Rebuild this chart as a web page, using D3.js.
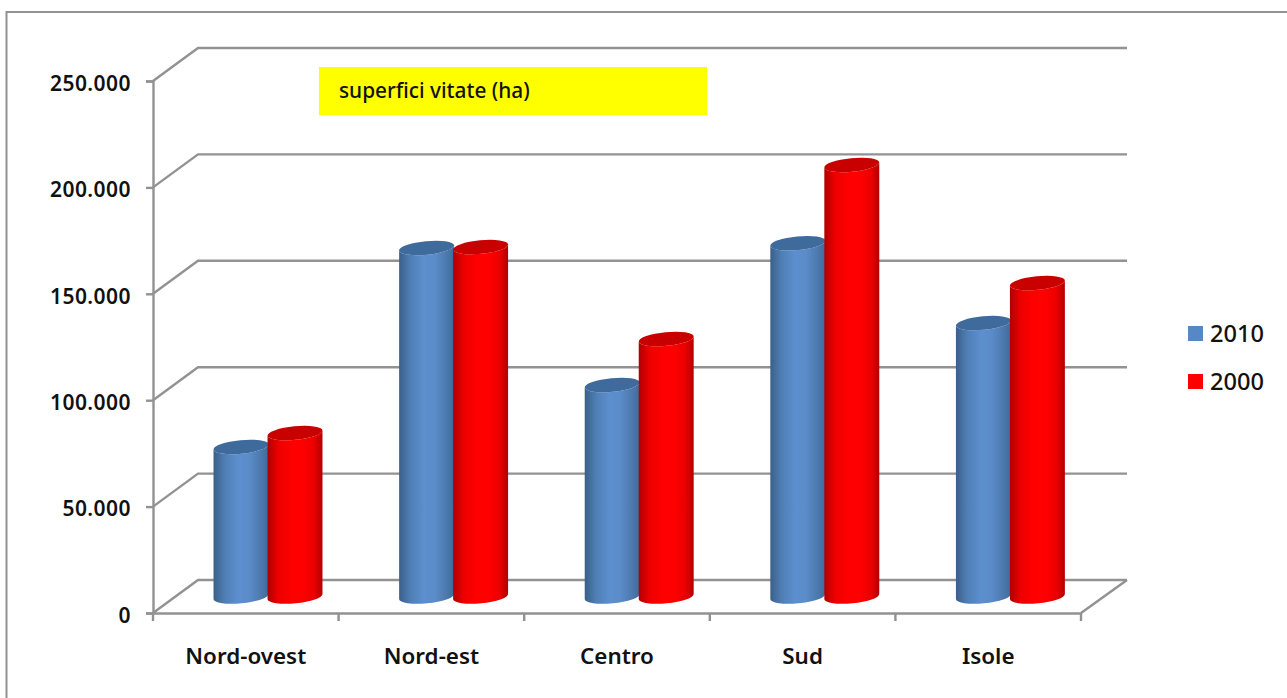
<!DOCTYPE html>
<html lang="it">
<head>
<meta charset="utf-8">
<title>Superfici vitate</title>
<script src="https://cdn.jsdelivr.net/npm/d3@7"></script>
<style>
  html, body { margin: 0; padding: 0; background: #fff; }
  svg { display: block; }
  text { font-family: "Noto Sans", "DejaVu Sans", sans-serif; fill: #111; }
</style>
</head>
<body>
<svg id="chart" width="1287" height="698"></svg>
<script>
// Vineyard area by Italian macro-region, hectares
const categories = ["Nord-ovest", "Nord-est", "Centro", "Sud", "Isole"];
const seriesNames = ["2010", "2000"];
const values2010 = [70300, 163800, 99400, 166000, 128500];
const values2000 = [76800, 164200, 121000, 202800, 147300];
const yTicks = [0, 50000, 100000, 150000, 200000, 250000];
const chartTitle = "superfici vitate (ha)";

const svg = d3.select("#chart");
const grey = "#929292";

// Oblique projection: the back wall sits up and to the right of the front plane
const depth = { x: 45, y: -33 };
const x = d3.scaleBand().domain(categories).range([153, 1081]);
const y = d3.scaleLinear().domain([0, 250000]).range([613, 81]);
const series = d3.scaleBand().domain(seriesNames).range([0, 108]);
const colors = d3.scaleOrdinal().domain(seriesNames).range(["#5788c6", "#ff0000"]);

// Chart frame, open on the right and bottom
svg.append("path")
  .attr("d", "M1287,12 H6.5 V698")
  .attr("fill", "none").attr("stroke", grey).attr("stroke-width", 2);

// Horizontal gradients that shade the cylinders
const defs = svg.append("defs");
const shades = [
  { id: "shade-2010", stops: ["#3a5f89", "#4f7eb4", "#5c8fce", "#5b8cc9", "#4d7aaf", "#416a9b"] },
  { id: "shade-2000", stops: ["#b00000", "#ee0000", "#ff0000", "#ff0000", "#ea0000", "#b00000"] }
];
shades.forEach(s => {
  const g = defs.append("linearGradient").attr("id", s.id);
  const offsets = [0, 0.2, 0.45, 0.65, 0.85, 1];
  s.stops.forEach((c, i) => g.append("stop").attr("offset", offsets[i]).attr("stop-color", c));
});

// Back wall gridlines with their slanted side-wall segments
const grid = svg.append("g").attr("fill", "none").attr("stroke", grey).attr("stroke-width", 2.4);
grid.selectAll("path").data(yTicks).join("path")
  .attr("d", d => `M${x.range()[0]},${y(d)} l${depth.x},${depth.y} H${x.range()[1] + depth.x + 1}`);

// Floor edge on the right
grid.append("path")
  .attr("d", `M${x.range()[1]},${y(0)} L${x.range()[1] + depth.x + 1},${y(0) + depth.y}`);

// Value axis
const yAxis = d3.axisLeft(y)
  .tickValues(yTicks)
  .tickSize(7)
  .tickPadding(15)
  .tickFormat(d3.formatLocale({ thousands: ".", grouping: [3], decimal: ",", currency: ["", ""] }).format(",d"));
const yG = svg.append("g").attr("transform", `translate(${x.range()[0]},0)`).call(yAxis);
yG.select(".domain").attr("stroke", grey).attr("stroke-width", 2.4);
yG.selectAll(".tick line").attr("stroke", grey).attr("stroke-width", 2.4);
yG.selectAll("text")
  .attr("font-size", 21).attr("font-weight", 600).attr("letter-spacing", 0.45)
  .attr("dy", "0.44em").attr("fill", "#111");

// Category axis: labels at band centres, tick marks on the band edges
const xAxis = d3.axisBottom(x).tickSize(0).tickPadding(35);
const xG = svg.append("g").attr("transform", `translate(0,${y(0)})`).call(xAxis);
xG.select(".domain").attr("stroke", grey).attr("stroke-width", 2.4);
xG.selectAll("text").attr("font-size", 22.4).attr("font-weight", 600).attr("fill", "#111");
const edges = categories.map(c => x(c)).concat(x.range()[1]);
xG.selectAll("line.edge").data(edges).join("line")
  .attr("class", "edge")
  .attr("x1", d => d).attr("x2", d => d)
  .attr("y1", 0).attr("y2", 8)
  .attr("stroke", grey).attr("stroke-width", 2.4);

// Cylinders stand half way into the depth of the floor
const rx = 27.6, ry = 6.8, tilt = 5.5;
const dx = rx * Math.cos(tilt * Math.PI / 180);
const dy = rx * Math.sin(tilt * Math.PI / 180);
const groupOffset = (x.bandwidth() - series.range()[1]) / 2 + depth.x / 2 - 0.3;
const baseY = v => y(v) + depth.y / 2;

const rows = [];
categories.forEach((c, i) => {
  rows.push({ cat: c, name: seriesNames[0], value: values2010[i] });
  rows.push({ cat: c, name: seriesNames[1], value: values2000[i] });
});

const bars = svg.append("g").selectAll("g").data(rows).join("g")
  .attr("transform", d =>
    `translate(${x(d.cat) + groupOffset + series(d.name) + series.bandwidth() / 2},0)`);

// Cylinder body
bars.append("path")
  .attr("fill", d => `url(#shade-${d.name})`)
  .attr("d", d => {
    const top = baseY(d.value), bottom = baseY(0);
    return `M${-dx},${top + dy} L${-dx},${bottom + dy}` +
      ` A${rx},${ry} ${-tilt} 0 0 ${dx},${bottom - dy}` +
      ` L${dx},${top - dy}` +
      ` A${rx},${ry} ${-tilt} 0 1 ${-dx},${top + dy} Z`;
  });

// Darker cap
bars.append("ellipse")
  .attr("rx", rx).attr("ry", ry)
  .attr("fill", d => d.name === seriesNames[0] ? "#3f6a9c" : "#c80000")
  .attr("transform", d => `translate(0,${baseY(d.value)}) rotate(${-tilt})`);

// Title box
const titleBox = svg.append("g").attr("transform", "translate(319,67)");
titleBox.append("rect").attr("width", 388).attr("height", 48).attr("fill", "#ffff00");
titleBox.append("text").attr("x", 20).attr("y", 24).attr("dy", "0.35em")
  .attr("font-size", 20.8).attr("font-weight", 500).text(chartTitle);

// Legend
const legend = svg.append("g").attr("transform", "translate(1188,0)");
const legendY = d3.scalePoint().domain(seriesNames).range([334, 382]);
const items = legend.selectAll("g").data(seriesNames).join("g")
  .attr("transform", d => `translate(0,${legendY(d)})`);
items.append("rect").attr("y", -8).attr("width", 15).attr("height", 15).attr("fill", d => colors(d));
items.append("text").attr("x", 22).attr("dy", "0.35em")
  .attr("font-size", 23.6).attr("font-weight", 500).text(d => d);
</script>
</body>
</html>
